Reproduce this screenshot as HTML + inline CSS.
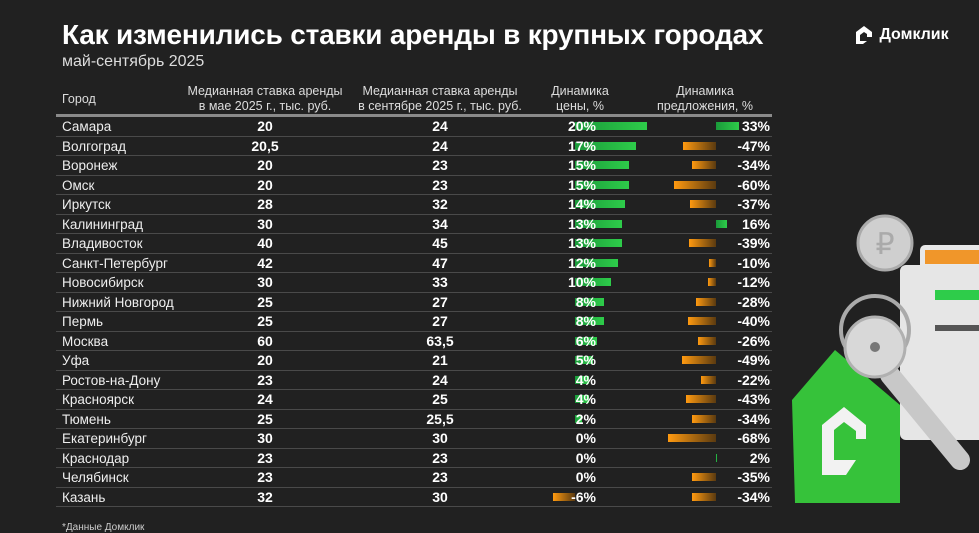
<!DOCTYPE html>
<html><head><meta charset="utf-8"><style>
*{margin:0;padding:0;box-sizing:border-box}
body{width:979px;height:533px;background:#212121;font-family:"Liberation Sans",sans-serif;color:#fff;position:relative;overflow:hidden}
.a{position:absolute;white-space:nowrap}
.h{font-size:12.5px;color:#ddd;text-align:center;line-height:15px}
.r{position:absolute;left:56px;width:716px;height:19.5px;border-bottom:1px solid #4a4a4a;font-size:14px;line-height:19px}
.c{position:absolute;left:6px;color:#eee;font-size:13.5px}
.n{position:absolute;width:100px;text-align:center;font-weight:bold}
.p{position:absolute;right:176px;font-weight:bold;z-index:2}
.o{position:absolute;right:2px;font-weight:bold}
.b{position:absolute;top:5px;height:8px}
.g{background:linear-gradient(90deg,#1a9a3a,#2ecc4a)}
.or{background:linear-gradient(90deg,#ff9a10,#5a3a10)}
</style></head><body>
<div class="a" style="left:62px;top:19px;font-size:28px;font-weight:bold;letter-spacing:-0.2px">Как изменились ставки аренды в крупных городах</div>
<div class="a" style="left:62px;top:53px;font-size:16px;color:#ddd">май-сентябрь 2025</div>
<div class="a" style="left:853px;top:24px;font-size:16px;font-weight:bold">
<svg width="22" height="22" viewBox="0 0 22 22" style="vertical-align:middle"><path d="M3 20V8L11 2l8 6v5h-5v-3l-3-2-4 3v6h7l-4 3z" fill="#fff"/></svg> Домклик</div>
<div class="a h" style="left:62px;top:92px;text-align:left">Город</div>
<div class="a h" style="left:180px;top:84px;width:170px">Медианная ставка аренды<br>в мае 2025 г., тыс. руб.</div>
<div class="a h" style="left:355px;top:84px;width:170px">Медианная ставка аренды<br>в сентябре 2025 г., тыс. руб.</div>
<div class="a h" style="left:540px;top:84px;width:80px">Динамика<br>цены, %</div>
<div class="a h" style="left:645px;top:84px;width:120px">Динамика<br>предложения, %</div>
<div class="a" style="left:56px;top:114px;width:716px;height:3px;background:#8a8a8a"></div>
<div id="t"></div>
<svg class="a" style="left:780px;top:200px" width="199" height="320">
<rect x="140" y="45" width="70" height="40" rx="5" fill="#e8e8e8"/>
<rect x="145" y="50" width="60" height="14" fill="#f0962a"/>
<circle cx="105" cy="43" r="27" fill="#cfcfcf" stroke="#aaa" stroke-width="3"/>
<text x="105" y="54" font-size="30" fill="#aaa" text-anchor="middle" font-family="Liberation Sans">₽</text>
<rect x="120" y="65" width="90" height="175" rx="6" fill="#e6e6e6"/>
<rect x="155" y="90" width="45" height="10" fill="#2ecc4a"/>
<rect x="155" y="125" width="45" height="6" fill="#555"/>
<circle cx="95" cy="130" r="34" fill="none" stroke="#aaa" stroke-width="4"/>
<polygon points="12,200 55,150 120,205 120,303 15,303" fill="#36c23a"/>
<path d="M42 225l22-18 22 18v14h-10v-8l-12-9-10 8v30h22l-10 15H42z" fill="#f2f2f2"/>
<line x1="110" y1="175" x2="180" y2="260" stroke="#c8c8c8" stroke-width="20" stroke-linecap="round"/>
<circle cx="95" cy="147" r="30" fill="#d8d8d8" stroke="#b0b0b0" stroke-width="3"/>
<circle cx="95" cy="147" r="5" fill="#777"/>
</svg>
<div class="a" style="left:62px;top:522px;font-size:10px;color:#ccc">*Данные Домклик</div>
<script>
const d=[["Самара","20","24",20,33],["Волгоград","20,5","24",17,-47],["Воронеж","20","23",15,-34],["Омск","20","23",15,-60],["Иркутск","28","32",14,-37],["Калининград","30","34",13,16],["Владивосток","40","45",13,-39],["Санкт-Петербург","42","47",12,-10],["Новосибирск","30","33",10,-12],["Нижний Новгород","25","27",8,-28],["Пермь","25","27",8,-40],["Москва","60","63,5",6,-26],["Уфа","20","21",5,-49],["Ростов-на-Дону","23","24",4,-22],["Красноярск","24","25",4,-43],["Тюмень","25","25,5",2,-34],["Екатеринбург","30","30",0,-68],["Краснодар","23","23",0,2],["Челябинск","23","23",0,-35],["Казань","32","30",-6,-34]];
let h="";d.forEach((r,i)=>{const top=117+i*19.5;const z=519,s=3.6,oz=660,os=0.7;
let pb=r[3]>0?`<div class="b g" style="left:${z}px;width:${r[3]*s}px"></div>`:r[3]<0?`<div class="b or" style="left:${z+r[3]*s}px;width:${-r[3]*s}px"></div>`:"";
let ob=r[4]>0?`<div class="b g" style="left:${oz}px;width:${Math.max(1,r[4]*os)}px"></div>`:`<div class="b or" style="left:${oz+r[4]*os}px;width:${-r[4]*os}px"></div>`;
h+=`<div class="r" style="top:${top}px"><span class="c">${r[0]}</span><span class="n" style="left:159px">${r[1]}</span><span class="n" style="left:334px">${r[2]}</span>${pb}<span class="p">${r[3]}%</span>${ob}<span class="o">${r[4]}%</span></div>`});
document.getElementById("t").innerHTML=h;
</script>
</body></html>
